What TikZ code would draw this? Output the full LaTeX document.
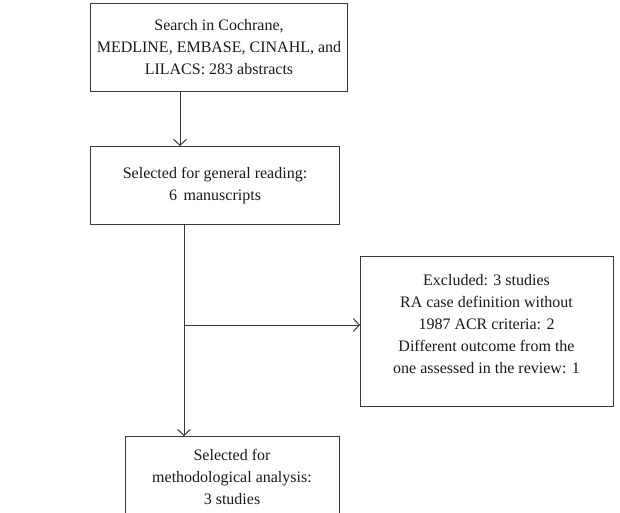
\documentclass[tikz,border=0pt]{standalone}
\usepackage{fontspec}
\setmainfont{Liberation Serif}
\usetikzlibrary{arrows.meta}
\begin{document}
\begin{tikzpicture}[x=1pt,y=-1pt,
  frame/.style={draw=black!78, line width=1pt, inner sep=0pt, anchor=north west},
  txt/.style={align=center, inner sep=0pt, font=\fontsize{16}{22}\selectfont, text=black!90},
  conn/.style={draw=black!78, line width=1pt},
  tip/.style={-{Straight Barb[length=6pt,width=13pt,line width=1pt]}}]
\useasboundingbox (0,0) rectangle (620,513);
\clip (0,0) rectangle (620,513);
% boxes
\node[frame, minimum width=257, minimum height=88] (search) at (90,3) {};
\node[txt] (searchT) at (search.center) {Search in Cochrane,\\MEDLINE, EMBASE, CINAHL, and\\LILACS: 283 abstracts};
\node[frame, minimum width=249, minimum height=78] (read) at (90,146) {};
\node[txt] (readT) at (read.center) {Selected for general reading:\\6\, manuscripts};
\node[frame, minimum width=253, minimum height=150] (excl) at (360,256) {};
\node[txt] (exclT) at (486.5,324) {Excluded: 3 studies\\RA case definition without\\1987 ACR criteria: 2\\Different outcome from the\\one assessed in the review: 1};
\node[inner sep=0pt, minimum width=214, minimum height=90, anchor=north west] (sel) at (125,436) {};
\node[txt] (selT) at (232,477) {Selected for\\methodological analysis:\\3 studies};
\draw[conn] (sel.south west) -- (sel.north west) -- (sel.north east) -- (sel.south east);
% connectors
\coordinate (col) at (180,0);
\coordinate (col2) at (184,0);
\coordinate (br) at (184,325);
\draw[conn,tip] (search.south -| col) -- (read.north -| col);
\draw[conn,tip] (read.south -| col2) -- (sel.north -| col2);
\draw[conn,tip] (br) -- (br -| excl.west);
\end{tikzpicture}
\end{document}
